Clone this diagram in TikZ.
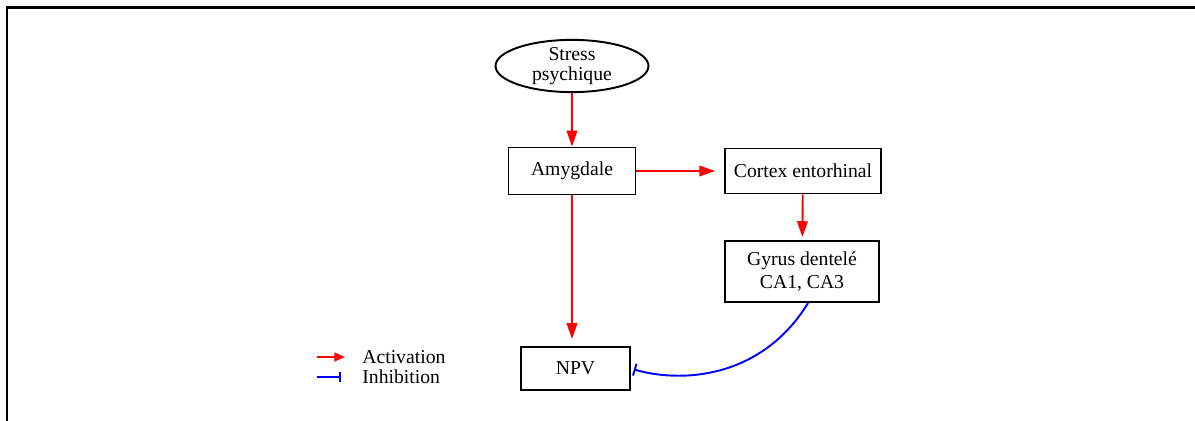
\documentclass[tikz,border=0pt]{standalone}
\usepackage{fontspec}
\setmainfont{Liberation Serif}
\usetikzlibrary{shapes.geometric,arrows.meta}

\tikzset{
  boite/.style={draw,line width=1.1pt,inner sep=2pt},
  active/.style={red,line width=1.1pt,-{Triangle[length=9pt,width=6pt]}},
  inhibe/.style={blue,line width=1.1pt,-{Bar[width=7pt,line width=1.1pt]}}
}

\begin{document}
\begin{tikzpicture}[x=0.02cm,y=-0.02cm,
  every node/.style={font=\fontsize{11.2}{13}\selectfont}]
\useasboundingbox (0,0) rectangle (1195,421);

% Cadre
\draw[line width=1.7pt] (7,421) -- (7,7.5) -- (1195,7.5);

% Noeuds
\node[draw,ellipse,line width=1.1pt,minimum width=3.06cm,minimum height=0.94cm,
  inner sep=0pt,align=center,font=\fontsize{11.2}{11.2}\selectfont] (stress) at (572,66) {Stress\\psychique};
\node[boite,minimum width=2.54cm,minimum height=0.94cm] (amyg) at (572,171) {Amygdale};
\node[boite,minimum width=3.12cm,minimum height=0.9cm] (cortex) at (803,171) {Cortex entorhinal};
\node[boite,minimum width=3.08cm,minimum height=1.22cm,align=center] (gyr) at (802,271.5) {Gyrus dentelé\\CA1, CA3};
\node[boite,minimum width=2.18cm,minimum height=0.86cm] (npv) at (575.5,368.5) {NPV};

% Activations
\draw[active] (stress) -- (amyg);
\draw[active,shorten >=0.18cm] (amyg) -- (cortex);
\draw[active,shorten >=0.06cm] (cortex) -- (gyr);
\draw[active,shorten >=0.14cm] (amyg.south) -- (amyg.south |- npv.north);

% Inhibition
\draw[inhibe,shorten >=0.06cm] (gyr.281) .. controls +(-48,78) and +(47,14) .. (npv.east);

% Legende
\coordinate (actA) at (317,357);
\coordinate (actB) at (345,357);
\coordinate (inhA) at (317,377);
\coordinate (inhB) at (341,377);
\draw[red,line width=1.1pt,-{Triangle[length=6pt,width=5pt]}] (actA) -- (actB);
\draw[blue,line width=1.1pt,-{Bar[width=6pt,line width=1.1pt]}] (inhA) -- (inhB);
\node[anchor=west,inner sep=0pt] (lgact) at (362,357) {Activation};
\node[anchor=west,inner sep=0pt] (lginh) at (362,377) {Inhibition};

\end{tikzpicture}
\end{document}
